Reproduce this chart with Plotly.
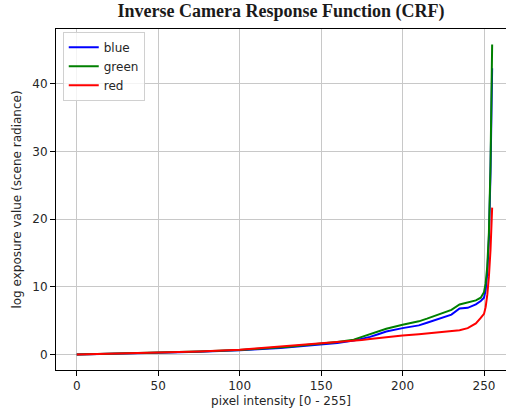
import plotly.graph_objects as go

# pixel intensity samples (x) and inverse CRF values
x_vals = [0, 25, 50, 75, 100, 125, 130, 150, 160, 170, 175, 180, 185, 190, 200, 210,
          215, 220, 225, 230, 235, 240, 245, 248, 250, 251, 252, 253, 254, 255]

blue_vals = [0.0, 0.10, 0.25, 0.42, 0.62, 0.95, 1.05, 1.45, 1.70, 2.05, 2.30, 2.60, 3.00, 3.40,
             3.90, 4.30, 4.70, 5.10, 5.50, 5.90, 6.80, 6.90, 7.40, 7.90, 8.40, 9.50, 12.0,
             17.0, 27.0, 42.3]

green_vals = [0.0, 0.12, 0.27, 0.45, 0.68, 1.05, 1.15, 1.62, 1.85, 2.20, 2.60, 3.10, 3.40, 3.80,
              4.40, 4.90, 5.30, 5.70, 6.10, 6.60, 7.40, 7.70, 8.00, 8.40, 9.20, 10.5, 13.0,
              18.0, 28.0, 45.8]

red_vals = [0.0, 0.12, 0.27, 0.45, 0.70, 1.15, 1.35, 1.62, 1.80, 2.00, 2.15, 2.30, 2.45, 2.60,
            2.80, 3.00, 3.10, 3.20, 3.30, 3.45, 3.60, 3.90, 4.60, 5.40, 6.00, 7.00, 8.80,
            11.5, 15.5, 21.7]

series = [("blue", blue_vals, "#0000ff"),
          ("green", green_vals, "#008000"),
          ("red", red_vals, "#ff0000")]

x_ticks = [0, 50, 100, 150, 200, 250]
y_ticks = [0, 10, 20, 30, 40]

fig = go.Figure()
for name, vals, col in series:
    fig.add_trace(go.Scatter(x=x_vals, y=vals, mode="lines", name=name,
                             line=dict(color=col, width=2)))

tick_font = dict(family="DejaVu Sans", size=12, color="#262626")

fig.update_layout(
    width=506, height=413,
    margin=dict(l=56, r=0, t=29, b=43),
    paper_bgcolor="white", plot_bgcolor="white",
    title=dict(text="<b>Inverse Camera Response Function (CRF)</b>",
               font=dict(family="Liberation Serif", size=18, color="#1a1a1a"),
               x=0.5, xref="paper", xanchor="center", y=0.974, yanchor="middle"),
    legend=dict(x=0.015, y=0.992, xanchor="left", yanchor="top",
                bgcolor="rgba(255,255,255,0.8)", bordercolor="#d0d0d0", borderwidth=1,
                font=dict(family="DejaVu Sans", size=12, color="#262626"),
                itemwidth=30, tracegroupgap=0),
    showlegend=True,
)

fig.update_xaxes(range=[-12.75, 263.5], tickvals=x_ticks, ticktext=[str(v) for v in x_ticks],
                 showgrid=True, gridcolor="#c8c8c8", gridwidth=1,
                 showline=True, linecolor="black", linewidth=1, mirror=True,
                 ticks="outside", ticklen=5, tickcolor="black", tickfont=tick_font,
                 zeroline=False,
                 title=dict(text="pixel intensity [0 - 255]", font=tick_font, standoff=4))

fig.update_yaxes(range=[-2.29, 48.1], tickvals=y_ticks, ticktext=[str(v) for v in y_ticks],
                 showgrid=True, gridcolor="#c8c8c8", gridwidth=1,
                 showline=True, linecolor="black", linewidth=1, mirror=False,
                 ticks="outside", ticklen=5, tickcolor="black", tickfont=tick_font,
                 zeroline=False,
                 title=dict(text="log exposure value (scene radiance)", font=tick_font, standoff=8))

fig.write_html("out.html", config={"displayModeBar": False},
               post_script="document.body.style.margin='0';document.body.style.overflow='hidden';")
